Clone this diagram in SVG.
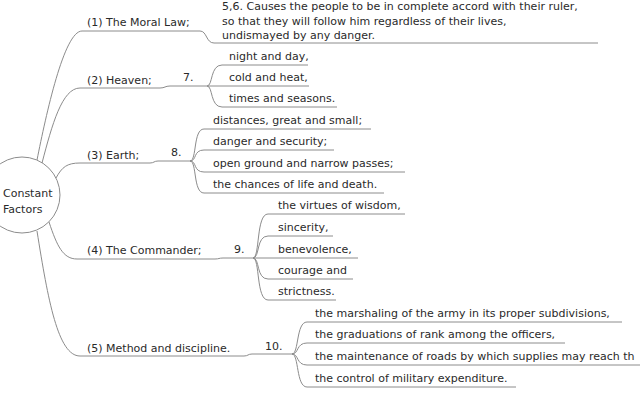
<svg xmlns="http://www.w3.org/2000/svg" width="640" height="400" viewBox="0 0 640 400">
<style>
.ln{fill:none;stroke:#8c8c8c;stroke-width:1}
.t{font-family:"DejaVu Sans","Liberation Sans",sans-serif;font-size:11px;fill:#2a2a2a}
</style>
<rect width="640" height="400" fill="#ffffff"/>
<g id="connectors" class="ln">
<path d="M37,160 C46,115 64,31 82,31"/>
<path d="M200,31 C207,31 206,43 214,43"/>
<path d="M42,163 C52,125 62,88 80,88"/>
<path d="M160,88 C165,88 165,86 170,86"/>
<path d="M207,86 C213,86 210,65 222,65"/>
<path d="M207,86 H222"/>
<path d="M207,86 C213,86 210,107 222,107"/>
<path d="M56,178 C62,167 67,163 80,163"/>
<path d="M150,163 C154,163 154,161 158,161"/>
<path d="M190,161 C197,161 193,129 204,129"/>
<path d="M190,161 C197,161 193,150 204,150"/>
<path d="M190,161 C197,161 193,172 204,172"/>
<path d="M190,161 C197,161 193,193 204,193"/>
<path d="M49,222 C57,246 63,259 77,259"/>
<path d="M215,259 C219,259 219,258 223,258"/>
<path d="M253,258 C260,258 256,214 268,214"/>
<path d="M253,258 C260,258 256,236 268,236"/>
<path d="M253,258 H268"/>
<path d="M253,258 C260,258 256,279 268,279"/>
<path d="M253,258 C260,258 256,300 268,300"/>
<path d="M37,231 C48,300 58,356 80,356"/>
<path d="M244,356 C248,356 248,354 252,354"/>
<path d="M292,354 C299,354 296,322 307,322"/>
<path d="M292,354 C299,354 296,343 307,343"/>
<path d="M292,354 C299,354 296,365 307,365"/>
<path d="M292,354 C299,354 296,387 307,387"/>
</g>
<g id="root">
<circle cx="22" cy="195" r="38" fill="#ffffff" stroke="#8c8c8c" stroke-width="1"/>
<text class="t" x="3" y="197">Constant</text>
<text class="t" x="3" y="213">Factors</text>
</g>
<g id="n1"><path class="ln" d="M82,31 H200"/><text class="t" x="87" y="26">(1) The Moral Law;</text></g>
<g id="n1a"><path class="ln" d="M214,43 H598"/>
<text class="t" x="222" y="10">5,6. Causes the people to be in complete accord with their ruler,</text>
<text class="t" x="222" y="24.5">so that they will follow him regardless of their lives,</text>
<text class="t" x="222" y="39">undismayed by any danger.</text></g>
<g id="n2"><path class="ln" d="M80,88 H160"/><text class="t" x="87" y="84">(2) Heaven;</text></g>
<g id="n2j"><path class="ln" d="M170,86 H207"/><text class="t" x="183" y="81">7.</text></g>
<g id="n2a"><path class="ln" d="M222,65 H308"/><text class="t" x="229" y="60">night and day,</text></g>
<g id="n2b"><path class="ln" d="M222,86 H309"/><text class="t" x="229" y="81">cold and heat,</text></g>
<g id="n2c"><path class="ln" d="M222,107 H337"/><text class="t" x="229" y="102">times and seasons.</text></g>
<g id="n3"><path class="ln" d="M80,163 H150"/><text class="t" x="87" y="159">(3) Earth;</text></g>
<g id="n3j"><path class="ln" d="M158,161 H190"/><text class="t" x="171" y="156">8.</text></g>
<g id="n3a"><path class="ln" d="M204,129 H371"/><text class="t" x="213" y="124">distances, great and small;</text></g>
<g id="n3b"><path class="ln" d="M204,150 H334"/><text class="t" x="213" y="145">danger and security;</text></g>
<g id="n3c"><path class="ln" d="M204,172 H405"/><text class="t" x="213" y="167">open ground and narrow passes;</text></g>
<g id="n3d"><path class="ln" d="M204,193 H384"/><text class="t" x="213" y="188">the chances of life and death.</text></g>
<g id="n4"><path class="ln" d="M77,259 H215"/><text class="t" x="87" y="254">(4) The Commander;</text></g>
<g id="n4j"><path class="ln" d="M223,258 H253"/><text class="t" x="234" y="253">9.</text></g>
<g id="n4a"><path class="ln" d="M268,214 H405"/><text class="t" x="278" y="209">the virtues of wisdom,</text></g>
<g id="n4b"><path class="ln" d="M268,236 H333"/><text class="t" x="278" y="231">sincerity,</text></g>
<g id="n4c"><path class="ln" d="M268,258 H358"/><text class="t" x="278" y="253">benevolence,</text></g>
<g id="n4d"><path class="ln" d="M268,279 H353"/><text class="t" x="278" y="274">courage and</text></g>
<g id="n4e"><path class="ln" d="M268,300 H336"/><text class="t" x="278" y="295">strictness.</text></g>
<g id="n5"><path class="ln" d="M80,356 H244"/><text class="t" x="87" y="352">(5) Method and discipline.</text></g>
<g id="n5j"><path class="ln" d="M252,354 H292"/><text class="t" x="265" y="350">10.</text></g>
<g id="n5a"><path class="ln" d="M307,322 H622"/><text class="t" x="315" y="317">the marshaling of the army in its proper subdivisions,</text></g>
<g id="n5b"><path class="ln" d="M307,343 H565"/><text class="t" x="315" y="338">the graduations of rank among the officers,</text></g>
<g id="n5c"><path class="ln" d="M307,365 H640"/><text class="t" x="315" y="360">the maintenance of roads by which supplies may reach th</text></g>
<g id="n5d"><path class="ln" d="M307,387 H516"/><text class="t" x="315" y="382">the control of military expenditure.</text></g>
</svg>
